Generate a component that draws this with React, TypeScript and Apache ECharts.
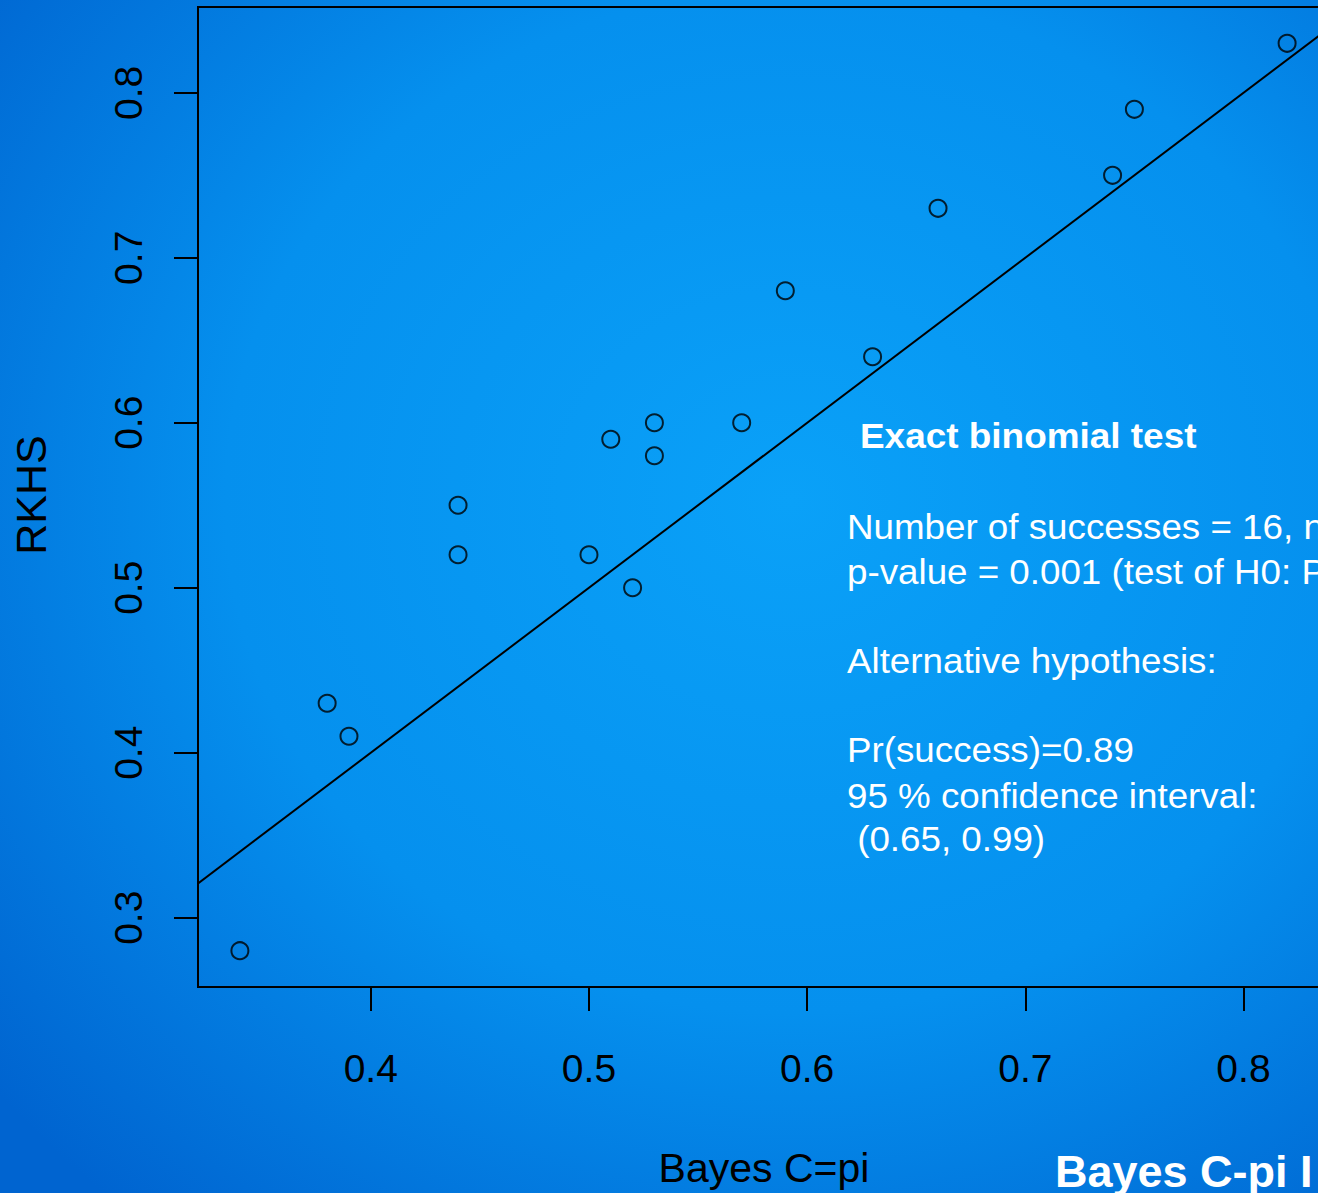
import React, { useEffect, useRef } from "react";
import * as echarts from "echarts";

// Scatter data: Bayes C=pi (x) vs RKHS (y)
const bayesCpi = [0.34, 0.38, 0.39, 0.44, 0.44, 0.50, 0.51, 0.52, 0.53, 0.53, 0.57, 0.59, 0.63, 0.66, 0.74, 0.75, 0.82];
const rkhs = [0.28, 0.43, 0.41, 0.55, 0.52, 0.52, 0.59, 0.50, 0.60, 0.58, 0.60, 0.68, 0.64, 0.73, 0.75, 0.79, 0.83];

// Identity reference line y = x
const refLineX = [0.3, 0.86];

const xTicks = [0.4, 0.5, 0.6, 0.7, 0.8];
const yTicks = [0.3, 0.4, 0.5, 0.6, 0.7, 0.8];

const xRange = [0.3208, 0.8392];
const yRange = [0.258, 0.852];

const boxTitle = "Exact binomial test";
const boxLines = [
  "Number of successes = 16, number of trials = 18",
  "p-value = 0.001 (test of H0: Pr(success) = 0.5)",
  "Alternative hypothesis:",
  "Pr(success)=0.89",
  "95 % confidence interval:",
  " (0.65, 0.99)",
];
const boxLineY = [527, 572, 661, 750, 796, 839];

const FONT = "'Liberation Sans', Arial, sans-serif";

export default function App() {
  const ref = useRef<HTMLDivElement>(null);
  useEffect(() => {
    if (!ref.current) return;
    const chart = echarts.init(ref.current, null, { renderer: "svg" });
    const points = bayesCpi.map((x, i) => [x, rkhs[i]]);
    const linePts = refLineX.map((x) => [x, x]);
    chart.setOption({
      animation: false,
      textStyle: { fontFamily: FONT },
      graphic: [
        {
          type: "rect",
          z: -10,
          silent: true,
          shape: { x: 0, y: 0, width: 1318, height: 1193 },
          style: {
            fill: new echarts.graphic.RadialGradient(0.6, 0.42, 0.78, [
              { offset: 0, color: "#0aa1f8" },
              { offset: 0.55, color: "#0590ee" },
              { offset: 1, color: "#0064d0" },
            ]),
          },
        },
        {
          type: "text",
          x: 31,
          y: 495,
          rotation: Math.PI / 2,
          style: { text: "RKHS", fill: "#000", font: `43px ${FONT}`, align: "center", verticalAlign: "middle" },
        },
        {
          type: "text",
          x: 764,
          y: 1168,
          style: { text: "Bayes C=pi", fill: "#000", font: `41px ${FONT}`, align: "center", verticalAlign: "middle" },
        },
        {
          type: "text",
          x: 1055,
          y: 1171,
          style: { text: "Bayes C-pi I", fill: "#fff", font: `bold 45px ${FONT}`, align: "left", verticalAlign: "middle" },
        },
        {
          type: "text",
          x: 860,
          y: 436,
          scaleX: 1.055,
          style: { text: boxTitle, fill: "#fff", font: `bold 35px ${FONT}`, align: "left", verticalAlign: "middle" },
        },
        ...boxLines.map((t, i) => ({
          type: "text",
          x: 847,
          y: boxLineY[i],
          scaleX: 1.05,
          style: { text: t, fill: "#fff", font: `35px ${FONT}`, align: "left", verticalAlign: "middle" },
        })),
      ],
      grid: {
        left: 198,
        top: 7,
        right: -11,
        bottom: 206,
        show: true,
        borderColor: "#000",
        borderWidth: 2,
        backgroundColor: "transparent",
        containLabel: false,
        outerBoundsMode: "none",
      },
      xAxis: {
        type: "value",
        min: xRange[0],
        max: xRange[1],
        axisLine: { show: false },
        splitLine: { show: false },
        axisTick: { show: true, length: 24, lineStyle: { color: "#000", width: 2 }, customValues: xTicks },
        axisLabel: {
          customValues: xTicks,
          color: "#000",
          fontSize: 39,
          fontFamily: FONT,
          margin: 62,
          formatter: (v: number) => v.toFixed(1),
        },
      },
      yAxis: {
        type: "value",
        min: yRange[0],
        max: yRange[1],
        axisLine: { show: false },
        splitLine: { show: false },
        axisTick: { show: true, length: 24, lineStyle: { color: "#000", width: 2 }, customValues: yTicks },
        axisLabel: {
          customValues: yTicks,
          color: "#000",
          fontSize: 39,
          fontFamily: FONT,
          rotate: 90,
          margin: 50,
          formatter: (v: number) => v.toFixed(1),
        },
      },
      series: [
        {
          type: "line",
          data: linePts,
          symbol: "none",
          clip: true,
          lineStyle: { color: "#000", width: 2 },
          silent: true,
        },
        {
          type: "scatter",
          data: points,
          symbol: "circle",
          symbolSize: 17,
          itemStyle: { color: "rgba(0,0,0,0)", borderColor: "#000", borderWidth: 2 },
        },
      ],
    });
    return () => chart.dispose();
  }, []);
  return (
    <div
      ref={ref}
      style={{ position: "absolute", left: 0, top: 0, width: 1318, height: 1193, overflow: "hidden" }}
    />
  );
}
